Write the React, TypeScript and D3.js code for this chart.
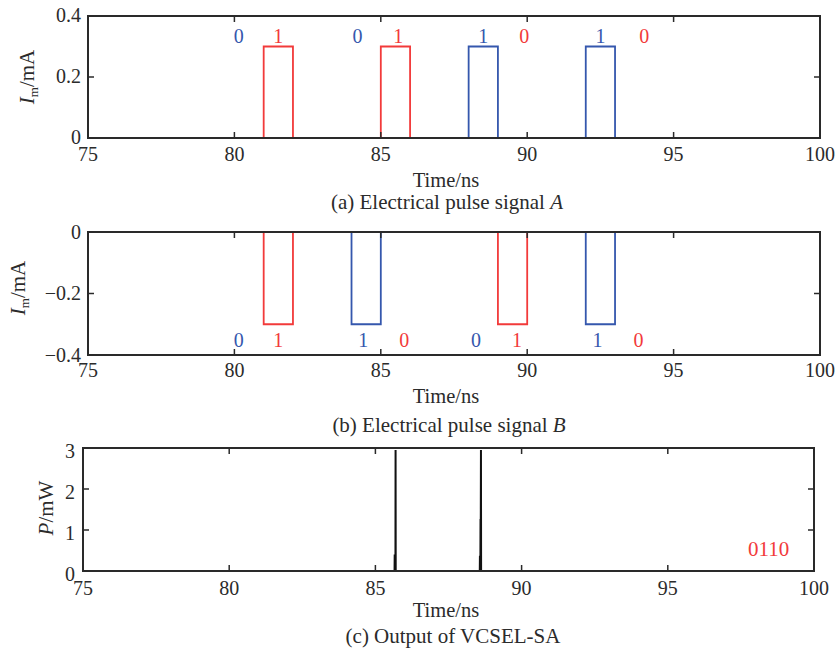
import React from 'react';
import * as d3 from 'd3';

// shared time axis
const timeDomain = [75, 100];
const timeTicks = [75, 80, 85, 90, 95, 100];

// (a) electrical pulse signal A  (pulse windows in ns, level in mA)
const aRedPulses = [[81, 82], [85, 86]];
const aBluePulses = [[88, 89], [92, 93]];
const aLevel = 0.3;
const aDomain = [0, 0.4];
const aTicks = [0, 0.2, 0.4];
const aBitTimes = [80.15, 81.5, 84.2, 85.6, 88.5, 89.9, 92.5, 94.0];
const aBitText = ['0', '1', '0', '1', '1', '0', '1', '0'];
const aBitColor = ['blue', 'red', 'blue', 'red', 'blue', 'red', 'blue', 'red'];
const aBitLevel = 0.335;

// (b) electrical pulse signal B
const bRedPulses = [[81, 82], [89, 90]];
const bBluePulses = [[84, 85], [92, 93]];
const bLevel = -0.3;
const bDomain = [-0.4, 0];
const bTicks = [-0.4, -0.2, 0];
const bBitTimes = [80.15, 81.5, 84.4, 85.8, 88.25, 89.65, 92.4, 93.8];
const bBitText = ['0', '1', '1', '0', '0', '1', '1', '0'];
const bBitColor = ['blue', 'red', 'blue', 'red', 'blue', 'red', 'blue', 'red'];
const bBitLevel = -0.351;

// (c) output of VCSEL-SA (mW)
const outTime = [75, 85.655, 85.66, 85.665, 85.685, 85.69, 85.695, 88.57, 88.575, 88.58, 88.59, 88.595, 88.6, 88.61, 88.615, 88.62, 100];
const outPower = [0, 0, 0.4, 0, 0, 2.95, 0, 0, 0.37, 0, 0, 1.27, 0, 2.95, 0, 0, 0];
const pDomain = [0, 3];
const pTicks = [0, 1, 2, 3];
const outLabel = '0110';

const RED = '#f23a3a';
const BLUE = '#3557ad';
const AXIS = '#2a2a2a';
const TEXT = '#2b2b2b';
const FONT = '"Liberation Serif", "Times New Roman", serif';

function steps(pulses: number[][], level: number): [number, number][] {
  const pts: [number, number][] = [[timeDomain[0], 0]];
  pulses.forEach(([s, e]) => {
    pts.push([s, 0], [s, level], [e, level], [e, 0]);
  });
  pts.push([timeDomain[1], 0]);
  return pts;
}

function fmt(v: number) {
  if (v === 0) return '0';
  const s = Math.abs(v) % 1 === 0 ? String(Math.abs(v)) : Math.abs(v).toFixed(1);
  return v < 0 ? '\u2212' + s : s;
}

function Frame({ box, x, y, yTicks }: { box: any; x: any; y: any; yTicks: number[] }) {
  const tl = 6;
  return (
    <g>
      <rect x={box.left} y={box.top} width={box.right - box.left} height={box.bottom - box.top}
        fill="none" stroke={AXIS} strokeWidth={2} />
      {timeTicks.map(t => (
        <g key={'x' + t}>
          <line x1={x(t)} x2={x(t)} y1={box.bottom} y2={box.bottom - tl} stroke={AXIS} strokeWidth={1.5} />
          <line x1={x(t)} x2={x(t)} y1={box.top} y2={box.top + tl} stroke={AXIS} strokeWidth={1.5} />
          <text x={x(t)} y={box.tickBase} textAnchor="middle" fontSize={20} fill={TEXT}>{t}</text>
        </g>
      ))}
      {yTicks.map(v => (
        <g key={'y' + v}>
          <line x1={box.left} x2={box.left + tl} y1={y(v)} y2={y(v)} stroke={AXIS} strokeWidth={1.5} />
          <line x1={box.right} x2={box.right - tl} y1={y(v)} y2={y(v)} stroke={AXIS} strokeWidth={1.5} />
          <text x={box.left - box.yTickGap} y={y(v) + box.yTickDy} textAnchor="end" dy="0.33em" fontSize={20} fill={TEXT}>{fmt(v)}</text>
        </g>
      ))}
      <text x={446} y={box.titleBase} textAnchor="middle" fontSize={20.5} fill={TEXT}>Time/ns</text>
    </g>
  );
}

function PulsePanel({ box, domain, ticks, red, blue, level, bitTimes, bitText, bitColor, bitLevel, caption }: any) {
  const x = d3.scaleLinear().domain(timeDomain).range([box.left, box.right]);
  const y = d3.scaleLinear().domain(domain).range([box.bottom, box.top]);
  const line = d3.line<[number, number]>().x(d => x(d[0])).y(d => y(d[1]));
  return (
    <g>
      <path d={line(steps(blue, level)) || ''} fill="none" stroke={BLUE} strokeWidth={1.8} />
      <path d={line(steps(red, level)) || ''} fill="none" stroke={RED} strokeWidth={1.8} />
      <Frame box={box} x={x} y={y} yTicks={ticks} />
      {bitTimes.map((t: number, i: number) => (
        <text key={i} x={x(t)} y={y(bitLevel)} dy="0.35em" textAnchor="middle" fontSize={20}
          fill={bitColor[i] === 'red' ? RED : BLUE}>{bitText[i]}</text>
      ))}
      <text transform={`translate(${box.ylabelX},${box.ylabelY}) rotate(-90)`} textAnchor="middle" fontSize={21} fill={TEXT}>
        <tspan fontStyle="italic">I</tspan>
        <tspan fontSize={13} dy={4}>m</tspan>
        <tspan dy={-4}>/mA</tspan>
      </text>
      <text x={box.captionX} y={box.captionBase} textAnchor="middle" fontSize={21} fill={TEXT}>
        {caption}<tspan fontStyle="italic">{box.captionLetter}</tspan>
      </text>
    </g>
  );
}

function OutputPanel({ box }: { box: any }) {
  const x = d3.scaleLinear().domain(timeDomain).range([box.left, box.right]);
  const y = d3.scaleLinear().domain(pDomain).range([box.bottom, box.top]);
  const pts = outTime.map((t, i) => [t, outPower[i]] as [number, number]);
  const line = d3.line<[number, number]>().x(d => x(d[0])).y(d => y(d[1]));
  return (
    <g>
      <path d={line(pts) || ''} fill="none" stroke="#111" strokeWidth={2} />
      <Frame box={box} x={x} y={y} yTicks={pTicks} />
      <text x={x(98.45)} y={y(0.55)} dy="0.35em" textAnchor="middle" fontSize={21} fill={RED}>{outLabel}</text>
      <text transform={`translate(${box.ylabelX},${box.ylabelY}) rotate(-90)`} textAnchor="middle" fontSize={21} fill={TEXT}>
        <tspan fontStyle="italic">P</tspan>/mW
      </text>
      <text x={box.captionX} y={box.captionBase} textAnchor="middle" fontSize={21} fill={TEXT}>(c) Output of VCSEL-SA</text>
    </g>
  );
}

const boxA = { left: 88, right: 820, top: 16, bottom: 138, tickBase: 161, titleBase: 187, captionBase: 209, captionX: 447, ylabelX: 34, ylabelY: 77, yTickGap: 7, yTickDy: -1, captionLetter: 'A' };
const boxB = { left: 88, right: 820, top: 232, bottom: 355, tickBase: 377, titleBase: 403, captionBase: 432, captionX: 449, ylabelX: 25, ylabelY: 288, yTickGap: 7, yTickDy: 0, captionLetter: 'B' };
const boxC = { left: 83, right: 814, top: 448, bottom: 571, tickBase: 595, titleBase: 617, captionBase: 643, captionX: 453, ylabelX: 53, ylabelY: 508, yTickGap: 8, yTickDy: 3 };

export default function App() {
  return (
    <div style={{ position: 'absolute', left: 0, top: 0 }}>
      <svg width={836} height={654} style={{ display: 'block', background: '#fff' }} fontFamily={FONT}>
        <PulsePanel box={boxA} domain={aDomain} ticks={aTicks} red={aRedPulses} blue={aBluePulses} level={aLevel}
          bitTimes={aBitTimes} bitText={aBitText} bitColor={aBitColor} bitLevel={aBitLevel}
          caption="(a) Electrical pulse signal " />
        <PulsePanel box={boxB} domain={bDomain} ticks={bTicks} red={bRedPulses} blue={bBluePulses} level={bLevel}
          bitTimes={bBitTimes} bitText={bBitText} bitColor={bBitColor} bitLevel={bBitLevel}
          caption="(b) Electrical pulse signal " />
        <OutputPanel box={boxC} />
      </svg>
    </div>
  );
}
